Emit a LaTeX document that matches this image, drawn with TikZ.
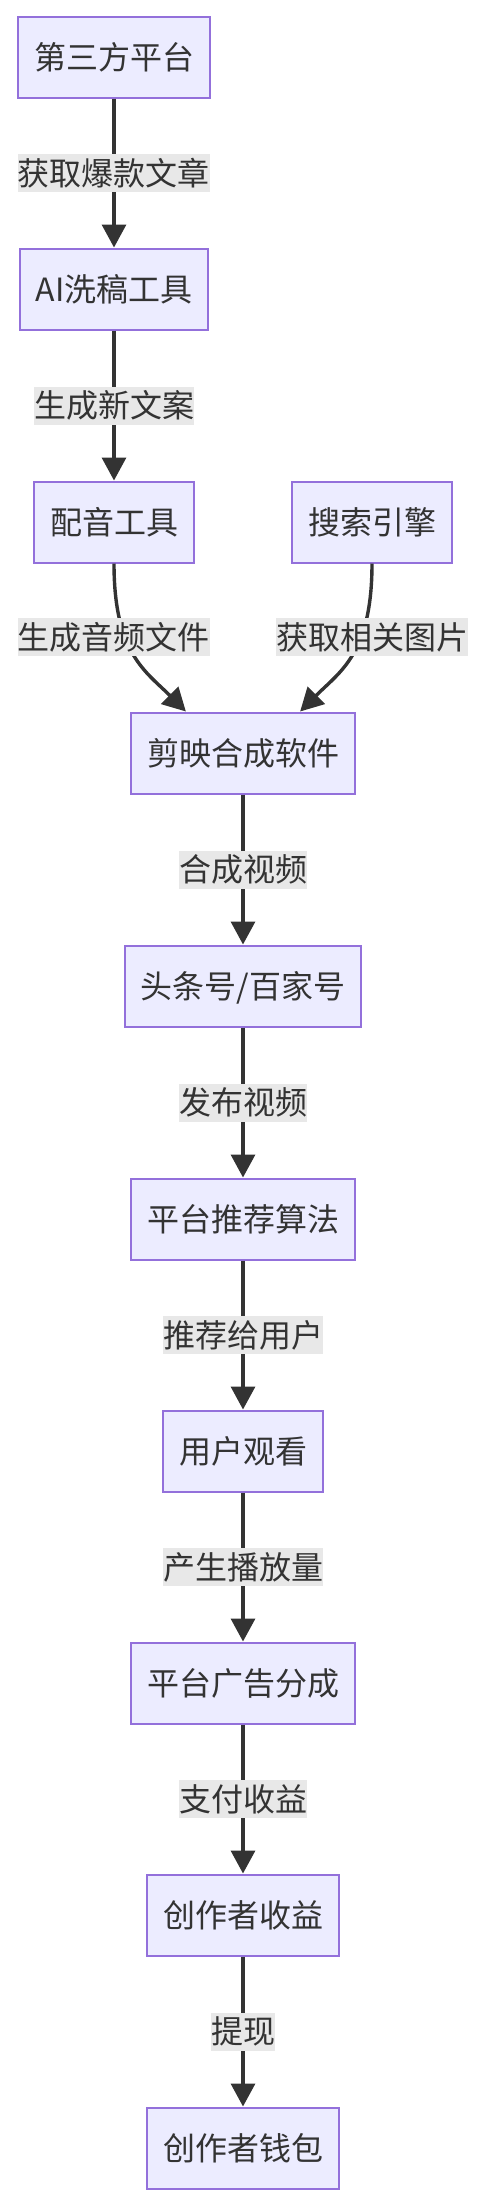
\documentclass[tikz,border=0pt]{standalone}
\usepackage{fontspec}
\setmainfont{Noto Sans CJK SC}
\usetikzlibrary{arrows.meta}
\definecolor{relleno}{HTML}{ECECFF}
\definecolor{borde}{HTML}{9370DB}
\definecolor{tinta}{HTML}{333333}
\definecolor{fondoetq}{HTML}{E8E8E8}
\tikzset{
  caja/.style={draw=borde, fill=relleno, line width=1pt, text=tinta,
    minimum height=40.5pt, inner xsep=8pt, inner ysep=0pt,
    text height=12pt, text depth=0pt},
  etiqueta/.style={fill=fondoetq, text=tinta, inner xsep=0pt, inner ysep=0pt,
    minimum height=19pt, text height=12pt, text depth=0pt},
  flecha/.style={draw=tinta, line width=1.7pt,
    -{Triangle[width=12pt, length=11.5pt]}}
}

\begin{document}
\begin{tikzpicture}[x=0.5pt, y=-0.5pt, font=\fontsize{16pt}{19pt}\selectfont]
  \useasboundingbox (0,0) rectangle (484,2206);
  \foreach \n/\px/\py/\t in {src/114/57/第三方平台, ai/114/289/AI洗稿工具,
                             peiyin/114/522/配音工具, sousuo/372/522/搜索引擎,
                             jianying/243/753/剪映合成软件, toutiao/243/986/{头条号/百家号},
                             tuijian/243/1219/平台推荐算法, yonghu/243/1451/用户观看,
                             fencheng/243/1683/平台广告分成, shouyi/243/1915/创作者收益,
                             qianbao/243/2148/创作者钱包}
    \node[caja] (\n) at (\px,\py) {\t};
  \foreach \a/\b/\t in {src/ai/获取爆款文章, ai/peiyin/生成新文案,
                        jianying/toutiao/合成视频, toutiao/tuijian/发布视频,
                        tuijian/yonghu/推荐给用户, yonghu/fencheng/产生播放量,
                        fencheng/shouyi/支付收益, shouyi/qianbao/提现}
    \draw[flecha] (\a) -- node[etiqueta] (e-\a) {\t} (\b);
  \draw[flecha] (peiyin.south) .. controls +(0,90) and +(-40,-40) .. (jianying.144);
  \draw[flecha] (sousuo.south) .. controls +(0,90) and +(40,-40) .. (jianying.36);
  \node[etiqueta] (e-peiyin) at (114,637) {生成音频文件};
  \node[etiqueta] (e-sousuo) at (372,637) {获取相关图片};
\end{tikzpicture}
\end{document}
